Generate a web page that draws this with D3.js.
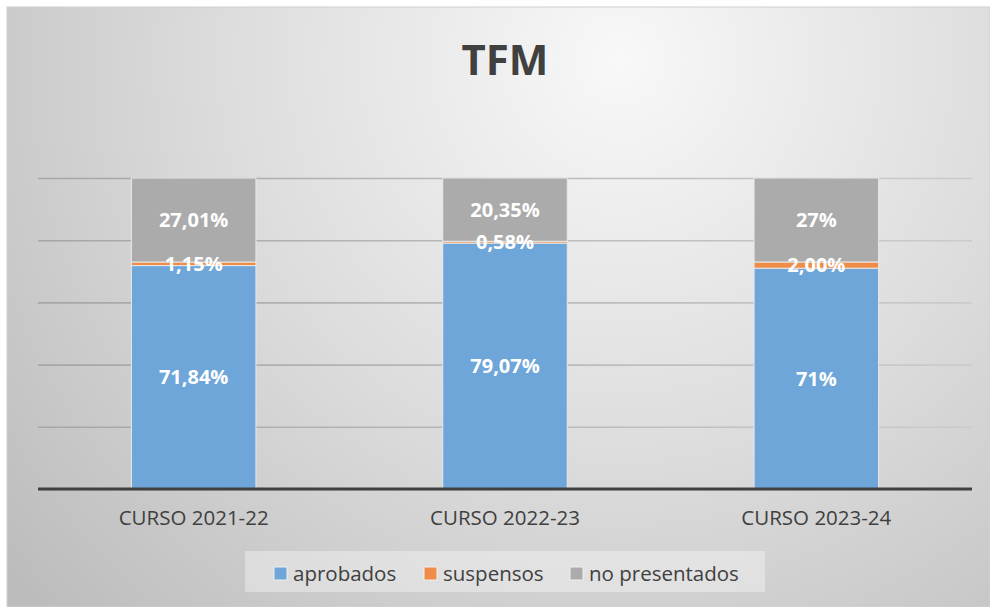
<!DOCTYPE html>
<html>
<head>
<meta charset="utf-8">
<script src="https://cdn.jsdelivr.net/npm/d3@7"></script>
<style>
  body { margin: 0; background: #fff; }
  text { font-family: "Open Sans", "DejaVu Sans", sans-serif; }
</style>
</head>
<body>
<div id="chart"></div>
<script>
// Datos del grafico
var cursos = ["CURSO 2021-22", "CURSO 2022-23", "CURSO 2023-24"];
var series = ["aprobados", "suspensos", "no presentados"];
var aprobados = [71.84, 79.07, 71];
var suspensos = [1.15, 0.58, 2.00];
var noPresentados = [27.01, 20.35, 27];
var etiquetas = [
    ["71,84%", "79,07%", "71%"],
    ["1,15%", "0,58%", "2,00%"],
    ["27,01%", "20,35%", "27%"]
];
var yTicks = [0, 20, 40, 60, 80, 100];

var width = 990, height = 607;
var colores = d3.scaleOrdinal().domain(series).range(["#6ea6d9", "#ef8c48", "#ababab"]);

var svg = d3.select("#chart").append("svg")
    .attr("width", width)
    .attr("height", height);

//Fondo con degradado como en Excel
var defs = svg.append("defs");
var grad = defs.append("radialGradient")
    .attr("id", "fondo")
    .attr("gradientUnits", "userSpaceOnUse")
    .attr("cx", 620).attr("cy", 60).attr("r", 800);
grad.append("stop").attr("offset", "0%").attr("stop-color", "#f8f8f8");
grad.append("stop").attr("offset", "50%").attr("stop-color", "#dcdcdc");
grad.append("stop").attr("offset", "100%").attr("stop-color", "#bcbcbc");

//Degradado de las lineas de cuadricula (coordenadas locales del grupo)
var gradLinea = defs.append("linearGradient")
    .attr("id", "linea")
    .attr("gradientUnits", "userSpaceOnUse")
    .attr("x1", 0).attr("x2", 934).attr("y1", 0).attr("y2", 0);
gradLinea.append("stop").attr("offset", "0%").attr("stop-color", "#a6a6a6");
gradLinea.append("stop").attr("offset", "100%").attr("stop-color", "#cbcbcb");

svg.append("rect")
    .attr("x", 7).attr("y", 7)
    .attr("width", width - 7).attr("height", height - 7)
    .attr("fill", "url(#fondo)")
    .attr("stroke", "#d0d0d0")
    .attr("stroke-width", 1);

//Titulo
svg.append("text")
    .attr("x", 505).attr("y", 75)
    .attr("text-anchor", "middle")
    .attr("font-size", 42)
    .attr("font-weight", "bold")
    .attr("fill", "#404040")
    .text("TFM");

//Escalas
var x = d3.scaleBand().domain(cursos).range([38, 972]).paddingInner(0.6).paddingOuter(0.3);
var y = d3.scaleLinear().domain([0, 100]).range([489, 178]);

//Lineas de cuadricula
svg.append("g")
    .attr("transform", "translate(38,0)")
    .call(d3.axisRight(y).tickValues(yTicks).tickSize(972 - 38).tickFormat(""))
    .call(function(g) {
        g.select(".domain").remove();
        g.selectAll(".tick line").attr("stroke", "url(#linea)").attr("stroke-width", 1.6);
    });

//Apilar datos
var tabla = cursos.map(function(c, i) {
    return { curso: c, "aprobados": aprobados[i], "suspensos": suspensos[i], "no presentados": noPresentados[i], idx: i };
});
var stack = d3.stack().keys(series)(tabla);

var capas = svg.append("g").selectAll("g")
    .data(stack)
    .enter().append("g")
    .attr("fill", function(d) { return colores(d.key); });

capas.selectAll("rect")
    .data(function(d) { return d; })
    .enter().append("rect")
    .attr("x", function(d) { return x(d.data.curso); })
    .attr("y", function(d) { return y(d[1]); })
    .attr("width", x.bandwidth())
    .attr("height", function(d) { return y(d[0]) - y(d[1]); })
    .attr("stroke", "#e8e8e8")
    .attr("stroke-width", 1);

//Etiquetas de datos
stack.forEach(function(s, si) {
    svg.append("g").selectAll("text")
        .data(s)
        .enter().append("text")
        .attr("x", function(d) { return x(d.data.curso) + x.bandwidth() / 2; })
        .attr("y", function(d) { return (y(d[0]) + y(d[1])) / 2; })
        .attr("dy", "0.36em")
        .attr("text-anchor", "middle")
        .attr("font-size", 20)
        .attr("font-weight", "bold")
        .attr("fill", "#ffffff")
        .text(function(d) { return etiquetas[si][d.data.idx]; });
});

//Eje X
var ejeX = svg.append("g")
    .attr("transform", "translate(0,489)")
    .call(d3.axisBottom(x).tickSize(0).tickPadding(21));
ejeX.select(".domain").attr("stroke", "#404040").attr("stroke-width", 3)
    .attr("d", "M38,0H972");
ejeX.selectAll(".tick text")
    .attr("font-size", 20.5)
    .attr("fill", "#404040")
    .style("font-family", "'Open Sans', sans-serif");

//Leyenda
var leyenda = svg.append("g");
leyenda.append("rect")
    .attr("x", 245).attr("y", 551)
    .attr("width", 520).attr("height", 41)
    .attr("fill", "#ffffff").attr("fill-opacity", 0.35);

var posLeyenda = [274, 424, 570];
var items = leyenda.selectAll(".item")
    .data(series)
    .enter().append("g")
    .attr("transform", function(d, i) { return "translate(" + posLeyenda[i] + ",567)"; });
items.append("rect")
    .attr("width", 13).attr("height", 13)
    .attr("fill", function(d) { return colores(d); })
    .attr("stroke", "#f0f0f0").attr("stroke-width", 1);
items.append("text")
    .attr("x", 19).attr("y", 6.5)
    .attr("dy", "0.36em")
    .attr("font-size", 20.5)
    .attr("fill", "#404040")
    .text(function(d) { return d; });
</script>
</body>
</html>
